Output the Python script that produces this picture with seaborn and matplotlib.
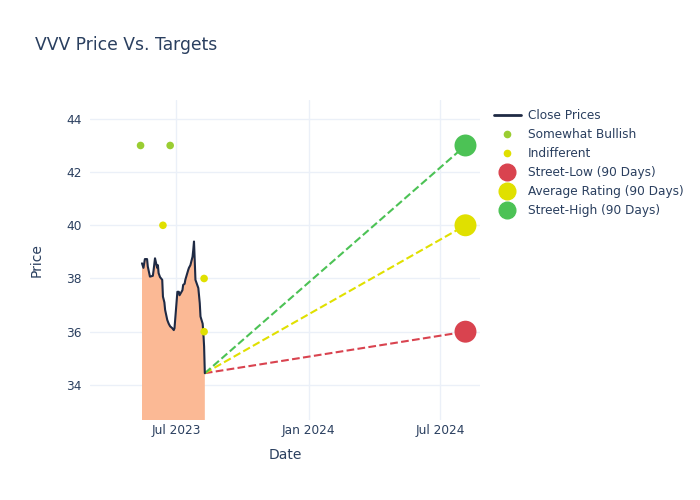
import numpy as np
import pandas as pd
import seaborn as sns
import matplotlib.pyplot as plt
import matplotlib.dates as mdates
from matplotlib.lines import Line2D

sns.set_style('white')
plt.rcParams['font.family'] = ['DejaVu Sans']

# close prices
close_dates = ['2023-05-15', '2023-05-17', '2023-05-19', '2023-05-22', '2023-05-23', '2023-05-26',
               '2023-05-30', '2023-05-31', '2023-06-02', '2023-06-05', '2023-06-06', '2023-06-07',
               '2023-06-09', '2023-06-12', '2023-06-13', '2023-06-15', '2023-06-16', '2023-06-19',
               '2023-06-21', '2023-06-23', '2023-06-26', '2023-06-28', '2023-06-29', '2023-07-03',
               '2023-07-05', '2023-07-06', '2023-07-10', '2023-07-11', '2023-07-13', '2023-07-14',
               '2023-07-18', '2023-07-19', '2023-07-21', '2023-07-24', '2023-07-25', '2023-07-26',
               '2023-07-27', '2023-07-28', '2023-08-01', '2023-08-03', '2023-08-04', '2023-08-07',
               '2023-08-08', '2023-08-09', '2023-08-10']
close_prices = [38.57, 38.40, 38.73, 38.73, 38.45, 38.07,
                38.10, 38.30, 38.76, 38.40, 38.50, 38.20,
                38.05, 37.95, 37.32, 37.10, 36.82, 36.44,
                36.30, 36.20, 36.13, 36.06, 36.13, 37.50,
                37.50, 37.37, 37.56, 37.76, 37.80, 37.95,
                38.32, 38.40, 38.50, 38.82, 39.08, 39.39,
                38.70, 37.95, 37.64, 37.07, 36.57, 36.30,
                35.94, 35.44, 34.44]

# analyst ratings
bullish_dates = ['2023-05-13', '2023-06-23']
bullish_targets = [43, 43]
indiff_dates = ['2023-06-13', '2023-08-09', '2023-08-09']
indiff_targets = [40, 38, 36]

# 90 day targets
target_date = '2024-08-05'
target_names = ['Street-Low (90 Days)', 'Average Rating (90 Days)', 'Street-High (90 Days)']
target_values = [36, 40, 43]
target_colors = ['#D9434F', '#E0E000', '#4CC255']

df = pd.DataFrame({'Date': pd.to_datetime(close_dates), 'Price': close_prices})
bull = pd.DataFrame({'Date': pd.to_datetime(bullish_dates), 'Price': bullish_targets})
indiff = pd.DataFrame({'Date': pd.to_datetime(indiff_dates), 'Price': indiff_targets})

text_col = '#2a3f5f'
fig = plt.figure(figsize=(7, 5), dpi=100)
ax = fig.add_axes([0.1286, 0.16, 0.557, 0.64])

ax.fill_between(df['Date'], df['Price'], 0, color='#FBB995', lw=0, zorder=1)
sns.lineplot(data=df, x='Date', y='Price', color='#1f2a44', lw=1.5, ax=ax, zorder=3)

last_d, last_p = df['Date'].iloc[-1], df['Price'].iloc[-1]
for v, c in zip(target_values, target_colors):
    ax.plot([last_d, pd.Timestamp(target_date)], [last_p, v], ls='--', color=c, lw=1.5, zorder=2)

sns.scatterplot(data=bull, x='Date', y='Price', color='#9ACD32', s=30, edgecolor='none', ax=ax, zorder=4)
sns.scatterplot(data=indiff, x='Date', y='Price', color='#E0E000', s=30, edgecolor='none', ax=ax, zorder=4)
tdf = pd.DataFrame({'Date': pd.to_datetime([target_date] * 3), 'Price': target_values, 'name': target_names})
sns.scatterplot(data=tdf, x='Date', y='Price', hue='name', palette=target_colors, s=250,
                edgecolor='none', ax=ax, zorder=5, legend=False)

ax.set_xlim(pd.Timestamp('2023-03-04'), pd.Timestamp('2024-08-25'))
ax.set_ylim(32.68, 44.71)
ax.set_yticks([34, 36, 38, 40, 42, 44])
ax.set_xticks(pd.to_datetime(['2023-07-01', '2024-01-01', '2024-07-01']))
ax.xaxis.set_major_formatter(mdates.DateFormatter('%b %Y'))
ax.grid(True, color='#EBF0F8', lw=1)
ax.set_axisbelow(True)
for s in ax.spines.values():
    s.set_visible(False)
ax.tick_params(length=0, labelsize=8.7, labelcolor=text_col, pad=6)
ax.tick_params(axis='x', pad=3)
ax.set_xlabel('Date', fontsize=10, color=text_col, labelpad=8)
ax.set_ylabel('Price', fontsize=10, color=text_col, labelpad=16)

fig.text(0.05, 0.91, 'VVV Price Vs. Targets', fontsize=12.3, color=text_col, va='center')

handles = [Line2D([], [], color='#1f2a44', lw=2),
           Line2D([], [], marker='o', ls='', color='#9ACD32', markersize=4.5),
           Line2D([], [], marker='o', ls='', color='#E0E000', markersize=4.5)]
handles += [Line2D([], [], marker='o', ls='', color=c, markersize=12) for c in target_colors]
labels = ['Close Prices', 'Somewhat Bullish', 'Indifferent'] + target_names
leg = fig.legend(handles, labels, loc='upper left', bbox_to_anchor=(0.697, 0.794), frameon=False,
                 fontsize=8.7, labelspacing=0.5, handlelength=2.2, handletextpad=0.6, borderpad=0)
for t in leg.get_texts():
    t.set_color(text_col)

plt.savefig('out.png', dpi=100)
